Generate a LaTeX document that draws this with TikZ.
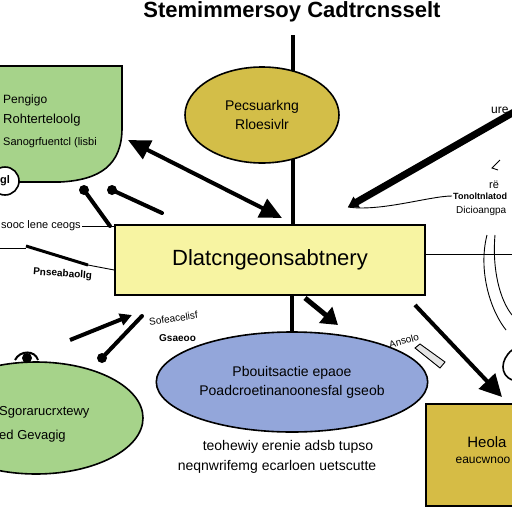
\documentclass[tikz,border=0pt]{standalone}
\usepackage{fontspec}
\setmainfont{Liberation Sans}
\usetikzlibrary{arrows.meta,shapes.geometric}
\definecolor{lgreen}{HTML}{A6D38A}
\definecolor{olive}{HTML}{D3BE48}
\definecolor{paley}{HTML}{F7F4A2}
\definecolor{lblue}{HTML}{93A6DA}
\definecolor{gold}{HTML}{D6BC45}
\tikzset{
  outl/.style={draw=black, line width=1.6pt},
  lbl/.style={font=\fontsize{11}{12}\selectfont, inner sep=1pt},
  big/.style={line width=4pt, -{Triangle[length=22pt,width=22pt]}},
  thin1/.style={line width=0.9pt},
  dumb/.style={line width=4pt, line cap=round},
}
\begin{document}
\begin{tikzpicture}[x=1pt,y=-1pt]
\useasboundingbox (0,0) rectangle (512,512);
\fill[white] (0,0) rectangle (512,512);
% title
\node[font=\bfseries\fontsize{22}{24}\selectfont, anchor=center] (title) at (292,12) {Stemimmersoy Cadtrcnsselt};
% green top-left shape
\draw[outl, fill=lgreen] (-2,66) -- (122,66) -- (122,128) .. controls (122,165) and (100,180) .. (60,182) -- (-2,182) -- cycle;
\node[lbl, font=\fontsize{12}{13}\selectfont, anchor=west] (g1) at (2,100) {Pengigo};
\node[lbl, font=\fontsize{13}{14}\selectfont, anchor=west] (g2) at (2,120) {Rohterteloolg};
\node[lbl, font=\fontsize{11}{12}\selectfont, anchor=west] (g3) at (2,143) {Sanogrfuentcl (lisbi};
\node[circle, draw, line width=1.6pt, minimum size=28pt, inner sep=0pt, fill=white, font=\bfseries\fontsize{11}{12}\selectfont] (gc) at (5,181) {gl};
% yellow top ellipse
\node[ellipse, outl, fill=olive, minimum width=154pt, minimum height=96pt, align=center, font=\fontsize{14}{17}\selectfont] (yel) at (262,115) {Pecsuarkng\\[2pt]Rloesivlr};
% central rectangle
\node[rectangle, outl, fill=paley, minimum width=310pt, minimum height=70pt, font=\fontsize{22}{24}\selectfont] (rect) at (270,260) {Dlatcngeonsabtnery};
% spine
\coordinate (top) at (293,35);
\coordinate (ytop) at (293,71);
\coordinate (ybot) at (293,159);
\draw[line width=3.5pt] (top) -- (ytop);
\draw[line width=3.5pt] (ybot) -- (ybot |- rect.north);
% blue ellipse
\node[ellipse, outl, fill=lblue, minimum width=220pt, minimum height=100pt, align=center, font=\fontsize{14}{17}\selectfont] (blue) at (292,382) {Pbouitsactie epaoe\\[2pt]Poadcroetinanoonesfal gseob};
\draw[line width=3.5pt] (blue.north |- rect.south) -- (blue.north);
% bottom-left green ellipse
\node[ellipse, outl, fill=lgreen, minimum width=214pt, minimum height=112pt] (gell) at (36,418) {};
\node[lbl, font=\fontsize{13}{14}\selectfont, anchor=west] (ge1) at (-2,412) {Sgorarucrxtewy};
\node[lbl, font=\fontsize{13}{14}\selectfont, anchor=west] (ge2) at (-2,436) {ed Gevagig};
% bottom-right gold rect
\node[rectangle, outl, fill=gold, minimum width=100pt, minimum height=102pt, anchor=north west] (grect) at (425,403) {};
\node[font=\fontsize{15}{16}\selectfont] (gr1) at (487,442) {Heola};
\node[font=\fontsize{12}{13}\selectfont] (gr2) at (483,460) {eaucwnoo};
% texts under blue ellipse
\node[font=\fontsize{14}{15}\selectfont] (t1) at (288,447) {teohewiy erenie adsb tupso};
\node[font=\fontsize{14}{15}\selectfont] (t2) at (277,467) {neqnwrifemg ecarloen uetscutte};
% big double arrow left
\coordinate (la) at (128,140);
\coordinate (lb) at (282,218);
\draw[line width=4pt, {Triangle[length=22pt,width=20pt]}-{Triangle[length=22pt,width=20pt]}] (la) -- (lb);
% big right line with tip
\coordinate (ra) at (348,207);
\coordinate (rb) at (514,112);
\draw[line width=7pt, -{Triangle[length=10pt,width=12pt]}] (rb) -- (ra);
\node[lbl, anchor=west, font=\fontsize{12}{13}\selectfont] (ure) at (490,110) {ure};
\draw[thin1] (500,160) -- (492,168) -- (498,170);
\node[lbl, anchor=west, font=\fontsize{11}{12}\selectfont] (rs) at (488,185) {r\"e};
\node[lbl, anchor=west, font=\bfseries\fontsize{9}{10}\selectfont] (r1) at (452,196) {Tonoltnlatod};
\node[lbl, anchor=west, font=\fontsize{10}{11}\selectfont] (r2) at (455,211) {Dicioangpa};
\draw[thin1] (ra) .. controls (380,212) and (430,196) .. (r1.west);
% right side of rectangle
\coordinate (rr) at (512,254);
\draw[thin1] (rect.east |- rr) -- (rr);
\draw[thin1] (487,235) .. controls (478,270) and (490,310) .. (506,330);
\draw[thin1] (495,235) .. controls (492,270) and (500,300) .. (512,315);
\draw[line width=1.6pt] (512,350) .. controls (500,360) and (500,375) .. (512,380);
% dumbbells top-left
\coordinate (d1a) at (84,190); \coordinate (d1b) at (110,226);
\coordinate (d2a) at (112,190); \coordinate (d2b) at (162,213);
\draw[dumb] (d1a) -- (d1b);
\draw[dumb] (d2a) -- (d2b);
\fill (d1a) circle (5pt); \fill (d2a) circle (5pt);
% left labels
\node[lbl, anchor=west, font=\fontsize{11}{12}\selectfont] (l1) at (0,226) {sooc lene ceogs};
\draw[thin1] (l1.east) -- (rect.west |- l1.east);
\draw[thin1] (0,248) -- (26,248);
\coordinate (lk1) at (26,246); \coordinate (lk2) at (88,265);
\draw[line width=3pt] (lk1) -- (lk2);
\draw[thin1] (lk2) -- (rect.west |- 0,270);
\node[lbl, anchor=west, font=\bfseries\fontsize{10}{11}\selectfont, rotate=-4] (l2) at (32,272) {Pnseabaollg};
% lower-left arrows
\coordinate (la1) at (70,340); \coordinate (la2) at (132,315);
\draw[line width=4pt, -{Triangle[length=12pt,width=12pt]}] (la1) -- (la2);
\coordinate (la3) at (102,358); \coordinate (la4) at (142,316);
\draw[dumb] (la3) -- (la4);
\fill (la3) circle (5pt);
\node[lbl, anchor=west, font=\fontsize{10}{11}\selectfont, rotate=8] (l3) at (148,322) {Sofeacelisf};
\node[lbl, anchor=west, font=\bfseries\fontsize{10}{11}\selectfont] (l4) at (158,338) {Gsaeoo};
\draw[line width=2pt] (15,360) .. controls (20,350) and (35,350) .. (38,360);
\fill (27,358) circle (5pt);
% arrows below rect
\coordinate (a1) at (305,298); \coordinate (a2) at (338,325);
\draw[line width=5pt, -{Triangle[length=16pt,width=20pt]}] (a1) -- (a2);
\coordinate (a3) at (415,305); \coordinate (a4) at (502,397);
\draw[big] (a3) -- (a4);
\node[lbl, anchor=west, font=\fontsize{10}{11}\selectfont, rotate=15] (an) at (388,345) {Ansolo};
\draw[thin1, fill=white!80!gray] (415,348) -- (440,368) -- (445,362) -- (420,344) -- cycle;
\end{tikzpicture}
\end{document}
